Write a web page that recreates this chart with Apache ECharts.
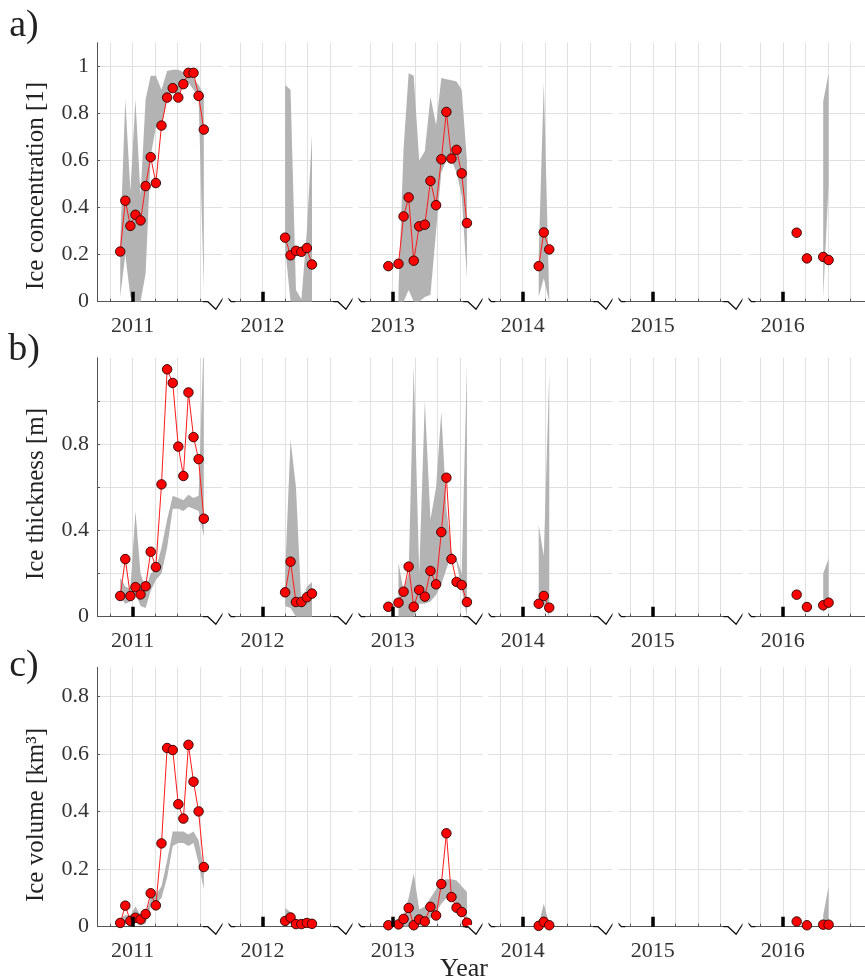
<!DOCTYPE html>
<html>
<head>
<meta charset="utf-8">
<title>Ice concentration, thickness and volume</title>
<script src="https://cdn.jsdelivr.net/npm/echarts@6/dist/echarts.min.js"></script>
<style>
  html, body { margin: 0; padding: 0; background: #fff; }
  #chart { width: 865px; height: 980px; }
</style>
</head>
<body>
<div id="chart"></div>
<script>
// weekly sampling dates, missing weeks kept as gaps (null values)
const sampleDates = [
  // 2011 season
  '2010-12-15', '2010-12-22', '2010-12-29', '2011-01-05', '2011-01-12', '2011-01-19', '2011-01-26', '2011-02-02',
  '2011-02-09', '2011-02-16', '2011-02-23', '2011-03-02', '2011-03-09', '2011-03-16', '2011-03-23', '2011-03-30', '2011-04-06',
  // 2012
  '2012-02-01', '2012-02-08', '2012-02-15', '2012-02-22', '2012-02-29', '2012-03-07',
  // 2013
  '2012-12-26', '2013-01-02', '2013-01-09', '2013-01-16', '2013-01-23', '2013-01-30', '2013-02-06', '2013-02-13',
  '2013-02-20', '2013-02-27', '2013-03-06', '2013-03-13', '2013-03-20', '2013-03-27', '2013-04-03', '2013-04-10',
  // 2014
  '2014-01-23', '2014-01-30', '2014-02-06',
  // 2016
  '2016-01-20', '2016-01-27', '2016-02-03', '2016-02-10', '2016-02-17', '2016-02-24', '2016-03-02'
]

const concentration = [
  0.213, 0.429, 0.322, 0.369, 0.345, 0.491, 0.614, 0.504, 0.748, 0.867, 0.907, 0.867, 0.924, 0.972, 0.972, 0.874, 0.731,
  0.272, 0.197, 0.216, 0.212, 0.228, 0.158,
  0.151, null, 0.161, 0.362, 0.443, 0.174, 0.320, 0.327, 0.513, 0.410, 0.605, 0.806, 0.608, 0.645, 0.545, 0.334,
  0.151, 0.294, 0.222,
  0.293, null, 0.184, null, null, 0.190, 0.177
]
const concMin = [
  0.02, 0.20, 0.02, 0.00, 0.00, 0.12, 0.62, 0.74, 0.74, 0.86, 0.90, 0.88, 0.92, 0.93, 0.90, 0.87, 0.05,
  0.23, 0.00, 0.00, 0.00, 0.00, 0.00,
  null, null, 0.00, 0.00, 0.05, 0.00, 0.00, 0.02, 0.03, 0.30, 0.55, 0.60, 0.60, 0.55, 0.45, 0.10,
  0.02, 0.10, 0.00,
  null, null, null, null, null, 0.02, 0.50
]
const concMax = [
  0.25, 0.86, 0.47, 0.86, 0.45, 0.86, 0.96, 0.96, 0.90, 0.98, 0.985, 0.985, 0.975, 0.97, 0.95, 0.92, 0.88,
  0.92, 0.90, 0.05, 0.01, 0.30, 0.71,
  null, null, 0.05, 0.65, 0.97, 0.96, 0.60, 0.64, 0.87, 0.75, 0.95, 0.945, 0.94, 0.935, 0.90, 0.60,
  0.20, 0.93, 0.02,
  null, null, null, null, null, 0.85, 0.97
]

const thickness = [
  0.096, 0.267, 0.096, 0.137, 0.103, 0.141, 0.301, 0.230, 0.613, 1.146, 1.083, 0.788, 0.652, 1.039, 0.832, 0.730, 0.454,
  0.113, 0.255, 0.068, 0.068, 0.090, 0.107,
  0.046, null, 0.065, 0.116, 0.232, 0.046, 0.124, 0.093, 0.212, 0.150, 0.392, 0.644, 0.267, 0.161, 0.147, 0.068,
  0.060, 0.096, 0.042,
  0.102, null, 0.045, null, null, 0.053, 0.065
]
const thickMin = [
  0.09, 0.06, 0.07, 0.11, 0.05, 0.04, 0.12, 0.17, 0.20, 0.32, 0.50, 0.50, 0.49, 0.51, 0.50, 0.49, 0.37,
  0.05, 0.04, 0.00, 0.00, 0.00, 0.00,
  null, null, 0.00, 0.00, 0.00, 0.00, 0.06, 0.06, 0.07, 0.10, 0.15, 0.22, 0.29, 0.25, 0.13, 0.00,
  0.03, 0.06, 0.00,
  null, null, null, null, null, 0.02, 0.06
]
const thickMax = [
  0.18, 0.14, 0.13, 0.49, 0.20, 0.13, 0.20, 0.22, 0.32, 0.45, 0.56, 0.55, 0.54, 0.565, 0.55, 0.56, 1.30,
  0.20, 0.82, 0.60, 0.05, 0.14, 0.16,
  null, null, 0.25, 0.12, 0.20, 1.16, 0.20, 1.00, 0.45, 0.60, 0.95, 0.50, 0.30, 0.27, 0.20, 1.17,
  0.425, 0.28, 1.13,
  null, null, null, null, null, 0.20, 0.27
]

const volume = [
  0.013, 0.073, 0.020, 0.031, 0.025, 0.044, 0.116, 0.074, 0.289, 0.620, 0.613, 0.425, 0.375, 0.631, 0.503, 0.400, 0.207,
  0.020, 0.032, 0.009, 0.009, 0.013, 0.010,
  0.005, null, 0.008, 0.027, 0.065, 0.005, 0.025, 0.018, 0.069, 0.039, 0.148, 0.324, 0.103, 0.066, 0.051, 0.014,
  0.003, 0.017, 0.005,
  0.018, null, 0.005, null, null, 0.007, 0.007
]
const volMin = [
  0.005, 0.01, 0.01, 0.02, 0.005, 0.01, 0.07, 0.08, 0.10, 0.17, 0.28, 0.29, 0.29, 0.28, 0.29, 0.22, 0.13,
  0.01, 0.01, 0.00, 0.00, 0.00, 0.00,
  null, null, 0.00, 0.00, 0.00, 0.005, 0.01, 0.02, 0.03, 0.05, 0.08, 0.10, 0.10, 0.08, 0.06, 0.02,
  0.00, 0.00, 0.00,
  null, null, null, null, null, 0.00, 0.02
]
const volMax = [
  0.03, 0.04, 0.04, 0.07, 0.04, 0.04, 0.10, 0.11, 0.14, 0.23, 0.33, 0.33, 0.33, 0.32, 0.33, 0.30, 0.20,
  0.065, 0.05, 0.02, 0.01, 0.015, 0.015,
  null, null, 0.01, 0.04, 0.10, 0.185, 0.06, 0.07, 0.10, 0.13, 0.16, 0.165, 0.165, 0.16, 0.14, 0.12,
  0.01, 0.08, 0.01,
  null, null, null, null, null, 0.04, 0.14
]

const years = [2011, 2012, 2013, 2014, 2015, 2016]
const concLabels = [0, 0.2, 0.4, 0.6, 0.8, 1]
const thickLabels = [0, 0.4, 0.8]
const volLabels = [0, 0.2, 0.4, 0.6, 0.8]

const FONT = 'Liberation Serif'
const SEG_END = 3.97    // each season is shown until ~1 May ...
const SEG_START = -1.52 // ... and starts again mid November
const X_MIN = -1.58
const X_MAX = 12 * (years.length - 1) + 3.65 // last season is cut by the figure edge

// months since 1 Jan 2011
function toMonths(s) {
  const [y, m, d] = s.split('-').map(Number)
  const days = new Date(y, m, 0).getDate()
  return (y - 2011) * 12 + (m - 1) + (d - 1) / days
}
const xs = sampleDates.map(toMonths)
const season = xs.map(v => Math.round(v / 12))

const breaks = []
for (let k = 0; k < years.length - 1; k++) {
  breaks.push({ start: 12 * k + SEG_END, end: 12 * (k + 1) + SEG_START, gap: 0.29 })
}
const monthTicks = []
const yearTicks = []
years.forEach((y, k) => {
  for (let m = -1; m <= 3; m++) monthTicks.push(12 * k + m)
  yearTicks.push(12 * k)
})

const panels = [
  { top: 42.7, height: 259, max: 1.1, labels: concLabels, values: concentration, lo: concMin, hi: concMax },
  { top: 357.7, height: 259, max: 1.2, labels: thickLabels, values: thickness, lo: thickMin, hi: thickMax },
  { top: 667.3, height: 259.4, max: 0.9, labels: volLabels, values: volume, lo: volMin, hi: volMax }
]

function lineData(values) {
  const out = []
  values.forEach((v, i) => {
    if (i > 0 && season[i] !== season[i - 1]) out.push([(xs[i - 1] + xs[i]) / 2, null])
    out.push([xs[i], v])
  })
  return out
}

function bandData(lo, hi) {
  const out = []
  lo.forEach((v, i) => {
    if (v != null && hi[i] != null) out.push([xs[i], v, hi[i], season[i]])
  })
  return out
}

// one polygon per season, drawn from the first point of that season
function renderBand(params, api) {
  const i = params.dataIndexInside
  const seg = api.value(3, i)
  if (i > 0 && api.value(3, i - 1) === seg) return
  const top = []
  const bottom = []
  for (let j = i; j < params.dataInsideLength && api.value(3, j) === seg; j++) {
    top.push(api.coord([api.value(0, j), api.value(2, j)]))
    bottom.unshift(api.coord([api.value(0, j), api.value(1, j)]))
  }
  return {
    type: 'polygon',
    shape: { points: top.concat(bottom) },
    style: { fill: '#b3b3b3' }
  }
}

// break symbol on the x axis line
function renderZigzag(params, api) {
  const p1 = api.coord([api.value(0), 0])
  const p2 = api.coord([api.value(1), 0])
  const cx = (p1[0] + p2[0]) / 2
  const y = p1[1]
  return {
    type: 'group',
    children: [
      { type: 'line', shape: { x1: cx - 17.5, y1: y, x2: cx + 6, y2: y }, style: { stroke: '#fff', lineWidth: 3 } },
      {
        type: 'polyline',
        shape: { points: [[cx - 22, y], [cx - 17.3, y], [cx - 9.3, y + 7.6], [cx, y - 6.7], [cx + 6, y], [cx + 10, y]] },
        style: { stroke: '#111', lineWidth: 1.3, fill: null }
      }
    ]
  }
}

const grid = []
const xAxis = []
const yAxis = []
const series = []

panels.forEach((p, i) => {
  grid.push({ left: 97, right: 0, top: p.top, height: p.height })

  xAxis.push({
    type: 'value',
    gridIndex: i,
    min: X_MIN,
    max: X_MAX,
    breaks: breaks,
    breakArea: {
      show: true,
      itemStyle: { color: '#fff', borderWidth: 0, opacity: 1 },
      zigzagAmplitude: 0,
      expandOnClick: false
    },
    axisLine: { onZero: false, lineStyle: { color: '#555', width: 1 } },
    axisTick: { customValues: monthTicks, inside: true, length: 3, lineStyle: { color: '#555' } },
    axisLabel: {
      customValues: yearTicks,
      formatter: v => String(years[0] + Math.round(v / 12)),
      fontFamily: FONT,
      fontSize: 22,
      color: '#333',
      margin: 14
    },
    splitLine: { show: true, lineStyle: { color: '#e0e0e0', width: 1 } }
  })
  // thick black marks at 1 January
  xAxis.push({
    type: 'value',
    gridIndex: i,
    position: 'bottom',
    min: X_MIN,
    max: X_MAX,
    breaks: breaks,
    breakArea: { show: false },
    z: 5,
    axisLine: { show: false, onZero: false },
    axisTick: { customValues: yearTicks, inside: true, length: 10, lineStyle: { color: '#000', width: 3.5 } },
    axisLabel: { show: false },
    splitLine: { show: false }
  })

  yAxis.push({
    type: 'value',
    gridIndex: i,
    min: 0,
    max: p.max,
    interval: 0.2,
    axisLine: { show: true, onZero: false, lineStyle: { color: '#555', width: 1 } },
    axisTick: { show: true, inside: true, length: 3, lineStyle: { color: '#555' } },
    axisLabel: {
      showMaxLabel: false,
      fontFamily: FONT,
      fontSize: 22,
      color: '#333',
      margin: 8,
      formatter: v => (p.labels.some(l => Math.abs(l - v) < 1e-6) ? String(Math.round(v * 10) / 10) : '')
    },
    splitLine: { show: true, showMaxLine: false, lineStyle: { color: '#e0e0e0', width: 1 } }
  })

  series.push({
    type: 'custom',
    name: 'range ' + i,
    xAxisIndex: 2 * i,
    yAxisIndex: i,
    clip: true,
    silent: true,
    z: 2,
    encode: { x: 0, y: [1, 2] },
    renderItem: renderBand,
    data: bandData(p.lo, p.hi)
  })
  series.push({
    type: 'line',
    name: 'obs ' + i,
    xAxisIndex: 2 * i,
    yAxisIndex: i,
    z: 3,
    symbol: 'circle',
    symbolSize: 9.5,
    showSymbol: true,
    connectNulls: false,
    lineStyle: { color: '#ff1a1a', width: 1 },
    itemStyle: { color: '#ff0000', borderColor: '#2a0000', borderWidth: 0.9 },
    animation: false,
    data: lineData(p.values)
  })
  series.push({
    type: 'custom',
    name: 'break ' + i,
    xAxisIndex: 2 * i,
    yAxisIndex: i,
    clip: false,
    silent: true,
    z: 6,
    encode: { x: [0, 1], y: 2 },
    renderItem: renderZigzag,
    data: breaks.map(b => [b.start, b.end, 0])
  })
})

function label(text, x, y, size, rotate) {
  return {
    type: 'text',
    x: x,
    y: y,
    rotation: rotate ? Math.PI / 2 : 0,
    style: {
      text: text,
      font: size + 'px "' + FONT + '"',
      fill: '#222',
      align: 'center',
      verticalAlign: 'middle',
      textAlign: 'center',
      textVerticalAlign: 'middle'
    }
  }
}

const chart = echarts.init(document.getElementById('chart'))
chart.setOption({
  animation: false,
  backgroundColor: '#fff',
  grid: grid,
  xAxis: xAxis,
  yAxis: yAxis,
  series: series,
  graphic: [
    label('a)', 24, 26, 38),
    label('b)', 24, 350, 38),
    label('c)', 24, 666, 38),
    label('Ice concentration [1]', 36, 186, 25, true),
    label('Ice thickness [m]', 36, 494, 25, true),
    label('Ice volume [km\u00b3]', 36, 815, 25, true),
    label('Year', 464, 969, 26)
  ]
})
</script>
</body>
</html>
